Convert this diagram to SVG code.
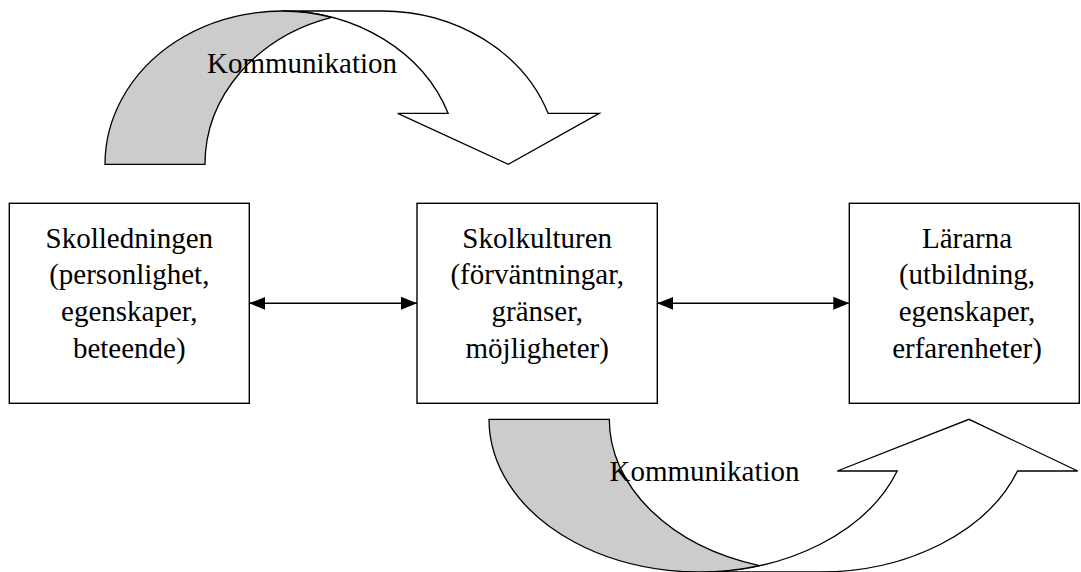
<svg xmlns="http://www.w3.org/2000/svg" width="1081" height="572" viewBox="0 0 1081 572">
<style>
  .box { fill: #ffffff; stroke: #000000; stroke-width: 1.4; }
  .txt { font-family: "Liberation Serif", "Times New Roman", serif; font-size: 29px; fill: #000000; }
  .ctr { text-anchor: middle; }
  .band { fill: #cccccc; stroke: #000000; stroke-width: 1.3; stroke-linejoin: miter; }
  .front { fill: #ffffff; stroke: #000000; stroke-width: 1.3; stroke-linejoin: miter; }
  .conn { stroke: #000000; stroke-width: 1.4; fill: none; }
</style>
<defs>
  <marker id="head" markerUnits="userSpaceOnUse" markerWidth="18" markerHeight="16" refX="16" refY="7" orient="auto-start-reverse" viewBox="0 0 18 14">
    <path d="M0,0.5 L16,7 L0,13.5 Z" fill="#000000"/>
  </marker>
</defs>
<rect width="1081" height="572" fill="#ffffff"/>

<g id="arrow-top">
  <path class="front" d="M281.6,11 L381.6,11 A176.6,153.3 0 0 1 548.1,113.3 L599.3,113.3 L508.3,164.3 L397.7,113.3 L448.1,113.3 A176.6,153.3 0 0 0 281.6,11 Z"/>
  <path class="band" d="M105,164.3 A176.6,153.3 0 0 1 331.6,17.3 A176.6,153.3 0 0 0 205,164.3 Z"/>
  <text class="txt" x="207" y="72.5">Kommunikation</text>
</g>

<g id="arrow-bottom">
  <path class="front" d="M699.3,572 L819.6,572 A210.3,152.7 0 0 0 1017.5,471 L1077.7,471 L969,419.3 L837.3,471 L897.2,471 A210.3,152.7 0 0 1 699.3,572 Z"/>
  <path class="band" d="M489,419.3 A210.3,152.7 0 0 0 759.45,565.6 A210.3,152.7 0 0 1 609.3,419.3 Z"/>
  <text class="txt" x="609.5" y="480.5">Kommunikation</text>
</g>

<g id="connectors">
  <line class="conn" x1="249.3" y1="303.3" x2="417" y2="303.3" marker-start="url(#head)" marker-end="url(#head)"/>
  <line class="conn" x1="657.3" y1="303.3" x2="849.3" y2="303.3" marker-start="url(#head)" marker-end="url(#head)"/>
</g>

<g id="node-skolledningen">
  <rect class="box" x="9.3" y="203.3" width="240" height="200"/>
  <text class="txt ctr" x="129.3" y="247.7">Skolledningen</text>
  <text class="txt ctr" x="129.3" y="284.3">(personlighet,</text>
  <text class="txt ctr" x="129.3" y="321">egenskaper,</text>
  <text class="txt ctr" x="129.3" y="357.7">beteende)</text>
</g>

<g id="node-skolkulturen">
  <rect class="box" x="417" y="203.3" width="240.3" height="200"/>
  <text class="txt ctr" x="537.2" y="247.7">Skolkulturen</text>
  <text class="txt ctr" x="537.2" y="284.3">(förväntningar,</text>
  <text class="txt ctr" x="537.2" y="321">gränser,</text>
  <text class="txt ctr" x="537.2" y="357.7">möjligheter)</text>
</g>

<g id="node-lararna">
  <rect class="box" x="849.3" y="203.3" width="230" height="200"/>
  <text class="txt ctr" x="967" y="247.7">Lärarna</text>
  <text class="txt ctr" x="967" y="284.3">(utbildning,</text>
  <text class="txt ctr" x="967" y="321">egenskaper,</text>
  <text class="txt ctr" x="967" y="357.7">erfarenheter)</text>
</g>
</svg>
